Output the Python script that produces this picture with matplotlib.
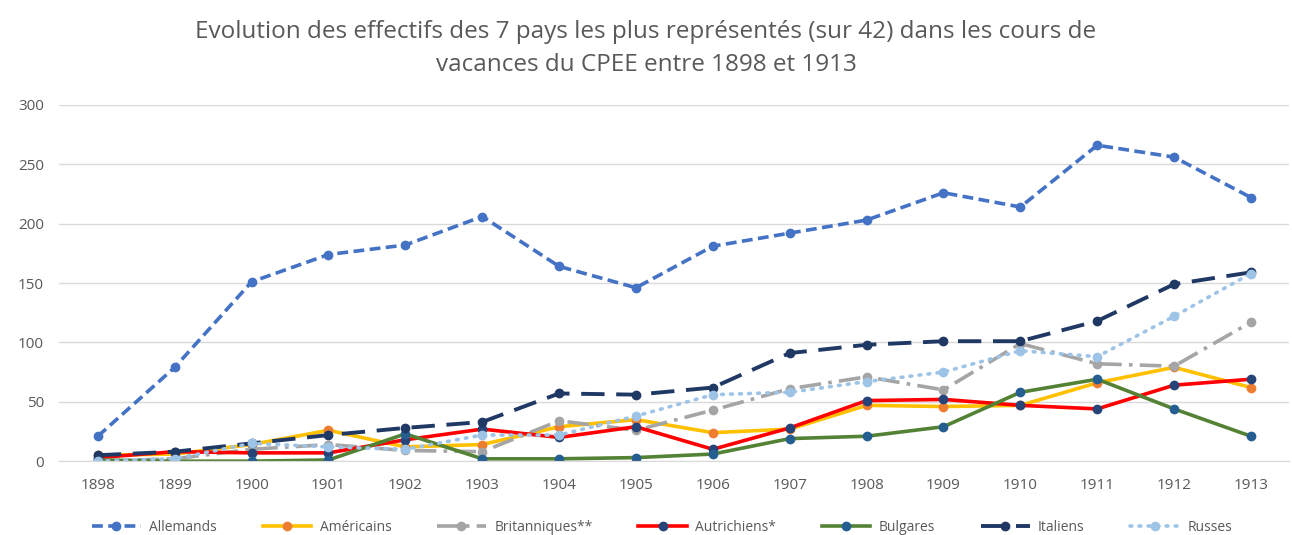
import matplotlib
matplotlib.use("Agg")
import matplotlib.pyplot as plt

plt.rcParams["font.family"] = ["Open Sans", "DejaVu Sans"]

years = ["1898", "1899", "1900", "1901", "1902", "1903", "1904", "1905",
         "1906", "1907", "1908", "1909", "1910", "1911", "1912", "1913"]

allemands   = [21, 79, 151, 174, 182, 206, 164, 146, 181, 192, 203, 226, 214, 266, 256, 222]
americains  = [5, 6, 14, 26, 12, 14, 29, 35, 24, 27, 47, 46, 47, 66, 79, 62]
britanniques = [0, 2, 10, 14, 9, 8, 34, 26, 43, 61, 71, 60, 99, 82, 80, 117]
autrichiens = [3, 8, 7, 7, 18, 27, 20, 29, 10, 28, 51, 52, 47, 44, 64, 69]
bulgares    = [1, 0, 0, 1, 23, 2, 2, 3, 6, 19, 21, 29, 58, 69, 44, 21]
italiens    = [5, 8, 15, 22, 28, 33, 57, 56, 62, 91, 98, 101, 101, 118, 149, 159]
russes      = [0, 2, 15, 12, 10, 22, 22, 38, 56, 58, 67, 75, 93, 88, 122, 158]

series_names = ["Allemands", "Américains", "Britanniques**", "Autrichiens*",
                "Bulgares", "Italiens", "Russes"]

title = ("Evolution des effectifs des 7 pays les plus représentés (sur 42) dans les cours de\n"
         "vacances du CPEE entre 1898 et 1913")

fig = plt.figure(figsize=(12.92, 5.35), dpi=100)
ax = fig.add_axes([0.046, 0.138, 0.952, 0.666])

x = list(range(len(years)))

styles = [
    (allemands,   "#4472C4", "#4472C4", (0, (3, 1.5)), 2.6),
    (americains,  "#FFC000", "#ED7D31", "-", 2.6),
    (britanniques, "#A5A5A5", "#A5A5A5", (0, (6, 2, 1, 2)), 2.6),
    (autrichiens, "#FF0000", "#264478", "-", 2.6),
    (bulgares,    "#548235", "#255E91", "-", 2.6),
    (italiens,    "#203864", "#203864", (0, (6, 3)), 2.8),
    (russes,      "#9DC3E6", "#9DC3E6", (0, (0.5, 2)), 2.6),
]

for (vals, lc, mc, ls, lw), name in zip(styles, series_names):
    ax.plot(x, vals, color=lc, linestyle=ls, linewidth=lw,
            marker="o", markersize=6, markerfacecolor=mc, markeredgecolor=mc,
            label=name, dash_capstyle="round" if name == "Russes" else "butt")

ax.set_xlim(-0.5, len(years) - 0.5)
ax.set_ylim(0, 300)
ax.set_yticks(range(0, 301, 50))
ax.set_xticks(x)
ax.set_xticklabels(years)
ax.grid(axis="y", color="#D9D9D9", linewidth=1)
ax.set_axisbelow(True)
for s in ["top", "right", "left"]:
    ax.spines[s].set_visible(False)
ax.spines["bottom"].set_color("#D9D9D9")
ax.tick_params(axis="both", length=0, labelsize=11, colors="#595959")
ax.tick_params(axis="x", pad=12)
ax.tick_params(axis="y", pad=11)

fig.text(0.5, 0.909, title, ha="center", va="center", fontsize=17.5,
         color="#595959", linespacing=1.5)

leg = ax.legend(loc="center", bbox_to_anchor=(0.49, -0.185), ncol=7,
                frameon=False, fontsize=10, handlelength=3.5, columnspacing=3.3,
                handletextpad=0.6)
for t in leg.get_texts():
    t.set_color("#595959")

fig.savefig("out.png", dpi=100)
